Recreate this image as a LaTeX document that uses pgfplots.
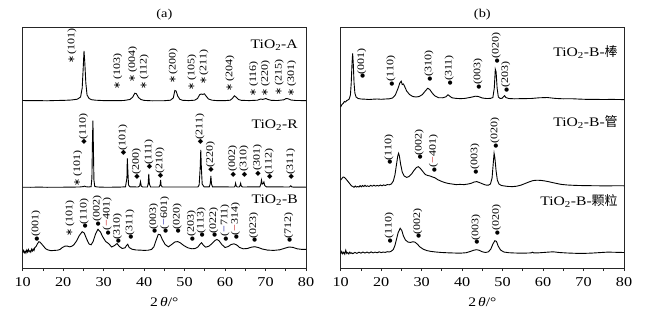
\documentclass[border=0pt]{standalone}
\usepackage{pgfplots}
\pgfplotsset{compat=1.18}
\usepackage{fontspec}
\setmainfont{Liberation Serif}[FakeStretch=1.2]
\newfontfamily\cjk{Noto Sans CJK SC}
\newfontfamily\dejavu{DejaVu Sans}
\newcommand{\st}{{\dejavu\fontsize{9.5}{9.5}\selectfont ∗}\,}
\newcommand{\di}{{\dejavu\fontsize{7}{7}\selectfont ◆}}
\newcommand{\bu}{{\dejavu\fontsize{5.5}{5.5}\selectfont ●}}
\newcommand{\rb}{\textcolor{red!75!black}{−}}
\newcommand{\bb}{\textcolor{blue!60!black}{−}}
\newcommand{\hk}[3]{\node[hkl] at (axis cs:#1,{#2-2.4}) {#3};}
\tikzset{hkl/.style={rotate=90,anchor=west,inner sep=0pt,font=\fontsize{10}{10}\selectfont},
  samp/.style={anchor=east,inner sep=0pt,font=\fontsize{13}{14}\selectfont},
  xl/.style={line width=0.9pt,black,mark=none}}
\pgfplotsset{xrd/.style={width=283.3pt,height=240.3pt,scale only axis,
  xmin=10,xmax=80,ymin=0,ymax=240.3,xtick={10,20,...,80},minor x tick num=1,
  ytick=\empty,xtick pos=left,tick align=outside,major tick length=3pt,minor tick length=3pt,
  axis line style={line width=0.8pt,black!85},tick style={line width=0.8pt,black!85},
  tick label style={font=\fontsize{13.5}{14}\selectfont},
  xticklabel style={yshift=-2.5pt},
  /pgf/number format/assume math mode=true,clip=false}}
\begin{document}
\begin{tikzpicture}
\path[use as bounding box] (0,0) rectangle (645pt,317pt);
% ---------------- panel (a)
\begin{axis}[xrd,at={(22.7pt,49pt)},anchor=south west]
\addplot[xl] coordinates {(10,167.5)(12,167.3)(14,167.4)(16,167.2)(18,167.5)(20,167.6)(22,168)(23.5,168.8)(24.3,171)(24.7,180)(24.95,200)(25.15,217)(25.35,205)(25.6,185)(25.9,173)(26.4,169.5)(27,168.3)(28,167.8)(30,167.4)(33,167.3)(35,167.5)(36.5,168.5)(37.2,171)(37.7,174.8)(38.1,174.3)(38.6,170.5)(39.2,168.5)(40,167.6)(42,167.2)(45,167.3)(46.5,167.8)(47.2,170)(47.6,177.5)(47.9,177)(48.3,172)(48.8,168.8)(49.5,167.7)(51,167.4)(52.5,167.8)(53.2,169.5)(53.7,173.2)(54.1,174)(54.5,173.6)(54.9,174.2)(55.3,172)(55.9,169)(56.8,167.8)(58,167.4)(60,167.4)(61.3,167.8)(61.9,170)(62.3,172.2)(62.7,171)(63.3,168.5)(64,167.7)(66,167.4)(68,167.8)(68.8,169)(69.3,168.6)(70.1,169.5)(70.6,168.5)(71.5,167.6)(73,167.5)(74.5,168.2)(75.1,169.5)(75.6,169.2)(76.3,168)(77.5,167.5)(80,167.4)};
\addplot[xl] coordinates {(10,80.8)(12,80.7)(14,80.9)(16,80.7)(18,80.8)(20,80.8)(22,80.9)(24,81.0)(25.0,81.4)(25.3,81.9)(25.6,81.3)(26.2,81.0)(26.9,81.3)(27.1,90)(27.25,130)(27.35,147.3)(27.45,125)(27.6,88)(27.8,81.5)(28.5,81)(30,80.8)(32,80.8)(34,80.9)(35.4,81.2)(35.75,90)(35.85,109.7)(35.95,100)(36.15,83)(36.5,81.2)(38.5,81)(38.9,82)(39.1,86.3)(39.3,82)(39.6,81)(40.8,81)(41.0,84)(41.15,94)(41.3,84)(41.6,81)(43.7,81)(43.95,83)(44.08,88)(44.2,82.5)(44.5,81)(53.3,81)(53.6,83)(53.85,100)(54.0,118)(54.15,100)(54.35,84)(54.8,81.2)(56.1,81.2)(56.35,84.5)(56.5,92)(56.65,84)(56.9,81.2)(62.3,81)(62.5,82.5)(62.6,84.7)(62.75,82)(63.0,81)(63.5,81)(63.7,82.5)(63.85,84.7)(64.0,82)(64.3,81)(68.6,81.2)(68.85,84)(69.0,88)(69.2,84)(69.45,84.5)(69.6,86)(69.8,82.5)(70.2,81.2)(75.9,81)(76.1,81.8)(76.25,82.2)(76.45,81.2)(76.8,80.9)(80,80.8)};
\addplot[xl] coordinates {(10,15.5)(10.2,17.5)(10.4,15.2)(10.6,16.8)(10.8,14.9)(11.0,17.9)(11.2,16.0)(11.4,18.5)(11.6,16.3)(11.8,17.2)(12.0,15.8)(12.2,18.8)(12.4,17.0)(12.6,19.0)(12.8,17.5)(13.0,20.5)(13.3,21.5)(13.6,24)(14.0,26.3)(14.3,25.8)(14.7,24)(15.2,21.5)(15.7,19.2)(16.3,18.0)(17.0,17.3)(17.8,17.6)(18.6,17.8)(19.2,18.5)(19.8,20.5)(20.4,21.8)(21.0,22.0)(21.5,21.2)(22.0,21.5)(22.6,23)(23.3,27)(24.0,32.5)(24.7,36.3)(25.2,35)(25.8,29)(26.4,24)(26.9,23.2)(27.4,26.5)(28.0,34)(28.6,38.7)(29.2,36)(29.8,31)(30.5,26.5)(31.2,24.5)(32.0,21)(32.7,22.5)(33.3,24.5)(33.9,21.5)(34.6,19.5)(35.3,20.2)(35.7,22.8)(35.95,23.8)(36.3,20.5)(37,18.8)(38,18)(39,17.9)(40,17.6)(41,17.8)(41.8,18.5)(42.4,21)(42.9,27)(43.5,33.7)(44.0,33.2)(44.5,28.5)(45.2,23.5)(46.0,21.2)(46.8,23.5)(47.6,26)(48.3,26.4)(49.0,25)(49.8,22.5)(50.8,20.2)(51.8,19.2)(52.6,19.5)(53.3,21)(53.8,23.8)(54.2,25.3)(54.6,23)(55.2,20.8)(56.0,21.8)(56.8,24.5)(57.5,27.5)(58.0,28.5)(58.5,27.3)(59.2,23.5)(60.0,20.5)(60.8,21.5)(61.5,23.5)(62.2,24.2)(62.9,23)(63.6,20.5)(64.5,19.2)(65.5,19.5)(66.5,20.8)(67.3,21.3)(68.2,20.5)(69.2,19)(70.5,17.9)(72,17.6)(73.5,18.2)(74.8,19.8)(75.8,21)(76.8,20.6)(77.8,19.2)(79,18.6)(80,18.7)};
\node[samp] at (axis cs:78,223) {TiO\textsubscript{2}-A};
\node[samp] at (axis cs:78,143) {TiO\textsubscript{2}-R};
\node[samp] at (axis cs:78,68) {TiO\textsubscript{2}-B};
\node[font=\fontsize{12}{13}\selectfont] at (axis cs:45,253) {(a)};
\node[font=\fontsize{13}{14}\selectfont] at (axis cs:45,-34.5) {2\,\textit{θ}/°};
\hk{22.2}{206.3}{\st(101)}
\hk{33.5}{180.7}{\st(103)}
\hk{37.2}{188}{\st(004)}
\hk{40.0}{180.7}{\st(112)}
\hk{47.2}{186.3}{\st(200)}
\hk{51.8}{179.7}{\st(105)}
\hk{54.8}{185.3}{\st(211)}
\hk{61.2}{178.7}{\st(204)}
\hk{67.1}{174}{\st(116)}
\hk{70.0}{174}{\st(220)}
\hk{73.4}{174.7}{\st(215)}
\hk{76.5}{174}{\st(301)}
\hk{23.6}{84}{\st(101)}
\hk{25.0}{125.3}{\di(110)}
\hk{34.8}{114.7}{\di(101)}
\hk{38.1}{90.7}{\di(200)}
\hk{41.2}{100.7}{\di(111)}
\hk{43.9}{91.3}{\di(210)}
\hk{53.8}{125.3}{\di(211)}
\hk{56.4}{97.3}{\di(220)}
\hk{61.9}{93}{\di(002)}
\hk{64.7}{93}{\di(310)}
\hk{68.0}{94}{\di(301)}
\hk{70.9}{90.7}{\di(112)}
\hk{76.2}{90.7}{\di(311)}
\hk{13.3}{28.7}{\bu(001)}
\hk{21.7}{33.7}{\st(101)}
\hk{25.2}{41.3}{\bu(110)}
\hk{28.4}{43.7}{\bu(002)}
\hk{30.9}{34.7}{\bu(\rb401)}
\hk{33.4}{26.3}{\bu(310)}
\hk{36.5}{30.3}{\bu(311)}
\hk{42.4}{36.3}{\bu(003)}
\hk{45.1}{36.3}{\bu(\bb601)}
\hk{48.2}{36.3}{\bu(020)}
\hk{51.7}{29}{\bu(203)}
\hk{54.1}{32.3}{\bu(113)}
\hk{57.2}{32.3}{\bu(022)}
\hk{60.0}{28.7}{\bu(\bb711)}
\hk{62.6}{30.3}{\bu(\rb314)}
\hk{67.1}{27.3}{\bu(023)}
\hk{75.7}{27.3}{\bu(712)}
\end{axis}
% ---------------- panel (b)
\begin{axis}[xrd,at={(340.7pt,49pt)},anchor=south west]
\addplot[xl] coordinates {(10,161)(10.3,163.5)(10.6,164.5)(10.9,166.5)(11.2,166)(11.5,167.5)(11.8,168)(12.1,169)(12.4,173)(12.6,185)(12.8,205)(12.95,214.7)(13.1,205)(13.3,185)(13.5,175)(13.8,171)(14.3,169.5)(15,169)(16,168.8)(17,168.5)(18,168.8)(19,169)(20,168.7)(21,169)(22,169.2)(22.8,170)(23.5,173)(24.2,180)(24.6,185)(24.95,186.8)(25.2,183.5)(25.5,184)(25.8,181.5)(26.3,177)(27,173.5)(27.8,171.5)(28.6,171)(29.4,171.5)(30.2,173.5)(30.9,177)(31.5,179.7)(32.0,178.5)(32.6,175)(33.3,172)(34.2,170.3)(35.2,170.2)(36.0,171.2)(36.5,173.3)(36.9,172)(37.5,170.2)(38.5,169.6)(39.5,169.4)(40.5,169.5)(41.5,170.2)(42.5,171)(43.3,171.8)(44.0,171.5)(45,170)(46,169.5)(47,169.6)(47.6,170.5)(47.95,180)(48.2,198.7)(48.4,196)(48.65,180)(48.95,171)(49.4,169.5)(49.9,169.8)(50.3,171.5)(50.5,172.3)(50.8,170.5)(51.5,169.5)(53,169.2)(55,169.4)(57,169.5)(59,170.2)(61,170.5)(63,169.6)(65,169.2)(67,169.3)(69,168.9)(71,168.6)(73,168.6)(75,168.5)(77,168.6)(80,168.4)};
\addplot[xl] coordinates {(10,88)(10.3,89.5)(10.6,91)(10.9,90.7)(11.2,89.5)(11.5,88)(11.8,86.5)(12.1,85)(12.4,83.5)(12.7,82)(13.0,81.5)(13.3,80.7)(13.6,82)(13.9,80.9)(14.2,81.5)(14.5,81)(14.8,82.3)(15.1,81.2)(15.4,82.5)(15.7,81.4)(16.0,82.7)(16.3,81.6)(16.6,82.2)(17.0,81.5)(17.4,82.6)(17.8,81.8)(18.2,82.8)(18.6,81.9)(19.0,82.6)(19.4,82)(19.8,83)(20.2,82.2)(20.6,83.1)(21.0,82.5)(21.5,83.4)(22.0,83.2)(22.5,84)(23.0,87)(23.4,93)(23.8,104)(24.1,112)(24.3,114.7)(24.5,112)(24.8,104)(25.2,96)(25.7,92)(26.3,90.6)(26.9,91.5)(27.5,94)(28.1,97.5)(28.7,100.5)(29.2,101.3)(29.7,99.5)(30.3,96.5)(30.9,93.5)(31.5,92.5)(32.1,92)(32.7,91)(33.3,90.2)(34.0,88.3)(34.8,86.8)(35.6,85.6)(36.5,84.6)(37.5,84)(38.5,83.4)(39.5,83.6)(40.5,83.4)(41.5,84)(42.3,84.8)(43.0,86)(43.6,86.4)(44.2,85.6)(45.0,84.2)(45.8,83)(46.5,82.8)(47.0,84)(47.4,90)(47.7,105)(47.9,114.7)(48.1,110)(48.4,97)(48.7,88)(49.1,84)(49.7,82.5)(50.5,82)(51.5,81.5)(52.5,81.4)(53.5,81.8)(54.5,82.8)(55.5,84.4)(56.5,86)(57.5,87.4)(58.5,87.8)(59.5,87.6)(60.5,87)(61.5,86.2)(62.5,85.3)(63.5,84.4)(64.5,83.6)(66,83)(68,82.6)(70,82.4)(72,82.3)(74,82.2)(76,82.1)(78,82.3)(80,82.2)};
\addplot[xl] coordinates {(10,14)(10.25,16.5)(10.5,14.2)(10.75,15.8)(11.0,13.8)(11.25,17.8)(11.5,14.5)(11.75,15.5)(12.0,14.0)(12.25,15.9)(12.5,14.6)(12.75,15.2)(13.0,14.3)(13.5,15.6)(14,14.6)(14.5,15.8)(15,14.8)(15.5,16.0)(16,15.0)(16.5,15.9)(17,14.9)(17.5,16.1)(18,15.1)(18.5,15.9)(19,15.2)(19.5,16.2)(20,15.4)(20.5,16.0)(21,15.6)(21.5,16.3)(22,16.0)(22.5,16.8)(23.0,18.5)(23.4,22.5)(23.8,29)(24.2,35.5)(24.7,39.7)(25.1,37.5)(25.5,32)(26.0,28)(26.6,26)(27.2,25.6)(27.8,26.2)(28.3,26)(28.9,24)(29.6,21)(30.4,18.8)(31.3,17.4)(32.3,16.6)(33.5,16)(35,15.5)(36.5,15.2)(38,15)(39.5,14.8)(41,15.3)(42,16.5)(42.8,17.7)(43.5,18.3)(44.2,17.8)(45,16.2)(45.8,15.5)(46.5,16.2)(47.1,19)(47.6,24)(48.1,27.3)(48.5,26.5)(48.9,22)(49.5,18)(50.3,16)(51.5,15.3)(53,15)(55,14.8)(57,15.1)(57.4,15.8)(57.7,15.1)(59,15.2)(61,15.8)(62.5,16.2)(64,15.5)(66,15)(68,14.7)(70,14.6)(72,14.9)(74,15.4)(76,15.9)(78,15.7)(80,15.5)};
\node[samp] at (axis cs:78.5,215.7) {TiO\textsubscript{2}-B-{\cjk 棒}};
\node[samp] at (axis cs:78.5,146.3) {TiO\textsubscript{2}-B-{\cjk 管}};
\node[samp] at (axis cs:78.5,67) {TiO\textsubscript{2}-B-{\cjk 颗粒}};
\node[font=\fontsize{12}{13}\selectfont] at (axis cs:45,253) {(b)};
\node[font=\fontsize{13}{14}\selectfont] at (axis cs:45,-34.5) {2\,\textit{θ}/°};
\hk{15.2}{191.3}{\bu(001)}
\hk{22.4}{184}{\bu(110)}
\hk{31.8}{188.7}{\bu(310)}
\hk{36.8}{184.7}{\bu(311)}
\hk{43.9}{180.7}{\bu(003)}
\hk{48.4}{207}{\bu(020)}
\hk{50.8}{178}{\bu(203)}
\hk{21.9}{105.3}{\bu(110)}
\hk{29.4}{110.3}{\bu(002)}
\hk{32.9}{98}{\bu(\rb401)}
\hk{43.2}{95.7}{\bu(003)}
\hk{48.1}{122}{\bu(020)}
\hk{22.0}{27}{\bu(110)}
\hk{29.0}{31.3}{\bu(002)}
\hk{43.4}{25.3}{\bu(003)}
\hk{48.5}{34.7}{\bu(020)}
\end{axis}
\end{tikzpicture}
\end{document}
